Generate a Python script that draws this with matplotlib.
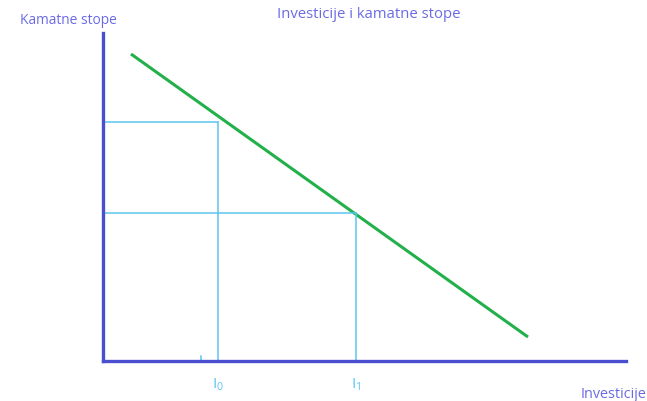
import matplotlib
matplotlib.use("Agg")
import matplotlib.pyplot as plt

plt.rcParams['font.family'] = ['Open Sans', 'DejaVu Sans']
plt.rcParams['mathtext.default'] = 'regular'

# Data (investment on x, interest rate on y, in chart units)
curve_invest = [28, 425]
curve_rate = [307, 24]
levels_invest = [115, 253]
levels_rate = [239, 148]
level_labels = ["I$_0$", "I$_1$"]
title = "Investicije i kamatne stope"
xlabel = "Investicije"
ylabel = "Kamatne stope"

W, H = 647, 401
fig = plt.figure(figsize=(W / 100, H / 100), dpi=100)
ax = fig.add_axes([103 / W, 40 / H, 523 / W, 328 / H])
ax.set_xlim(0, 523)
ax.set_ylim(0, 328)

axis_col = '#4a4fd0'
cyan = '#5cc6ef'
green = '#22b04a'
text_col = '#6a6ae6'

for s in ['top', 'right']:
    ax.spines[s].set_visible(False)
for s in ['left', 'bottom']:
    ax.spines[s].set_color(axis_col)
    ax.spines[s].set_linewidth(2.4)
ax.set_xticks([])
ax.set_yticks([])

ax.plot(curve_invest, curve_rate, color=green, lw=2.2, solid_capstyle='butt')

for xi, yi, lab in zip(levels_invest, levels_rate, level_labels):
    ax.plot([xi, xi], [0, yi], color=cyan, lw=1.1)
    ax.plot([0, xi], [yi, yi], color=cyan, lw=1.1)
    ax.text(xi, -16, lab, color=cyan, fontsize=11, ha='center', va='top')

ax.plot([98, 98], [0, 5], color=cyan, lw=1.1)

fig.text(369 / W, 1 - 15 / H, title, color=text_col, fontsize=10.7, ha='center', va='center')
fig.text(20 / W, 1 - 20 / H, ylabel, color=text_col, fontsize=9.9, ha='left', va='center')
fig.text(646 / W, 1 - 395 / H, xlabel, color=text_col, fontsize=10.4, ha='right', va='center')

fig.savefig("out.png", dpi=100)
